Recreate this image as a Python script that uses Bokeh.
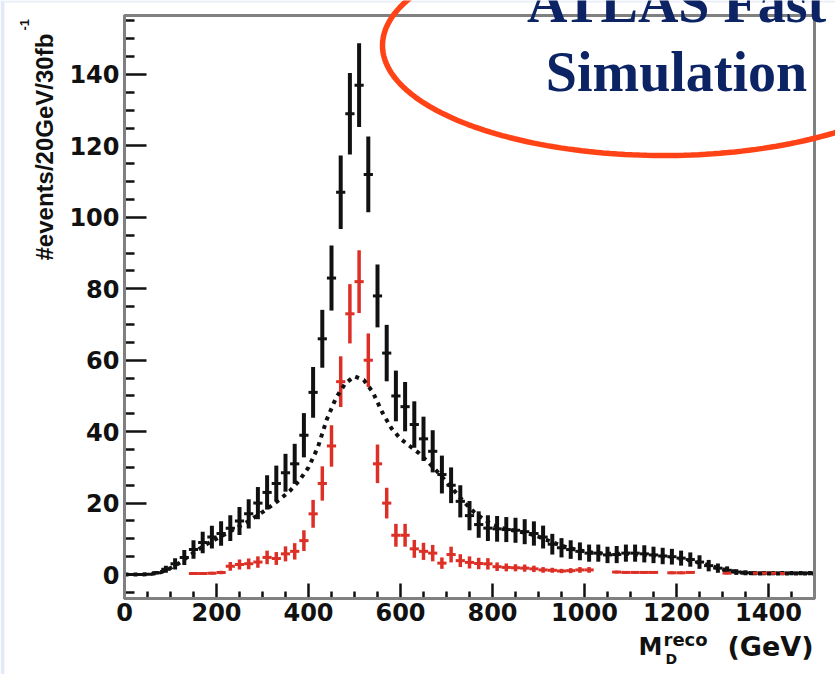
import numpy as np
from bokeh.plotting import figure
from bokeh.models import (BoxAnnotation, ColumnDataSource, FixedTicker, Label,
                          PolyAnnotation, Range1d)
from bokeh.embed import file_html
from bokeh.resources import INLINE

# ---------------- data ----------------
BIN_WIDTH = 20
bin_centers = list(range(10, 1500, BIN_WIDTH))

# total (signal + background), events per 20 GeV
total_events = [
    0.05, 0.05, 0.1, 0.5, 1.5, 3.0, 4.8, 7.0, 9.0, 10.5,
    11.5, 13.0, 15.0, 17.0, 20.0, 23.0, 25.5, 28.5, 31.0, 39.0,
    51.0, 66.0, 83.0, 107.0, 129.0, 137.0, 112.0, 78.0, 62.0, 50.0,
    47.0, 42.0, 38.0, 34.5, 28.0, 25.0, 20.5, 16.5, 14.0, 13.0,
    12.8, 12.6, 12.4, 12.0, 11.5, 10.5, 8.5, 7.5, 7.0, 6.5,
    6.0, 6.0, 5.5, 5.6, 6.0, 6.0, 5.8, 5.5, 5.2, 5.0,
    4.6, 4.2, 3.5, 2.5, 1.8, 1.2, 0.7, 0.5, 0.4, 0.4,
    0.4, 0.4, 0.4, 0.4, 0.4,
]
total_errors = [
    0.1, 0.1, 0.2, 0.5, 1.0, 1.6, 2.1, 2.6, 3.0, 3.2,
    3.4, 3.6, 3.9, 4.1, 4.5, 4.8, 5.0, 5.3, 5.6, 6.2,
    7.1, 8.1, 9.1, 10.3, 11.4, 11.7, 10.6, 8.8, 7.9, 7.1,
    6.9, 6.5, 6.2, 5.9, 5.3, 5.0, 4.5, 4.1, 3.7, 3.6,
    3.6, 3.5, 3.5, 3.5, 3.4, 3.2, 2.9, 2.7, 2.6, 2.5,
    2.4, 2.4, 2.3, 2.4, 2.4, 2.4, 2.4, 2.3, 2.3, 2.2,
    2.1, 2.0, 1.9, 1.6, 1.3, 1.1, 0.8, 0.7, 0.6, 0.6,
    0.6, 0.6, 0.6, 0.6, 0.6,
]

# signal only (None = empty bin)
signal_events = [
    None, None, None, None, None, None, None, 0.3, 0.3, 0.4,
    0.6, 2.3, 2.8, 3.0, 3.5, 4.8, 4.5, 5.8, 6.5, 9.5,
    17.0, 25.5, 36.0, 54.0, 73.0, 82.0, 60.0, 31.0, 20.0, 11.0,
    11.0, 7.2, 6.5, 6.0, 3.2, 5.6, 3.9, 3.4, 3.1, 3.0,
    2.2, 2.0, 1.9, 1.8, 1.6, 1.3, 1.2, 1.0, 1.1, 1.3,
    1.3, None, None, 0.7, 0.6, 0.6, 0.6, 0.6, None, 0.5,
    0.5, 0.6, None, None, None, 0.4, None, None, 0.4, 0.4,
    0.4, 0.3, None, None, None,
]
signal_errors = [
    None, None, None, None, None, None, None, 0.3, 0.3, 0.4,
    0.5, 1.2, 1.4, 1.5, 1.6, 1.9, 1.8, 2.1, 2.3, 2.9,
    3.9, 4.8, 5.8, 7.1, 8.3, 8.8, 7.5, 5.4, 4.3, 3.2,
    3.2, 2.5, 2.4, 2.3, 1.6, 2.2, 1.8, 1.7, 1.6, 1.6,
    1.2, 1.1, 1.0, 1.0, 0.9, 0.8, 0.7, 0.6, 0.7, 0.8,
    0.8, None, None, 0.4, 0.4, 0.4, 0.4, 0.4, None, 0.4,
    0.4, 0.4, None, None, None, 0.3, None, None, 0.3, 0.3,
    0.3, 0.3, None, None, None,
]

# fitted shape
fit_mass = list(range(0, 1501, 20))
fit_events = [
    0.0, 0.0, 0.05, 0.2, 0.7, 1.8, 3.3, 5.2, 7.0, 8.6,
    10.0, 11.4, 12.8, 14.2, 15.8, 17.5, 19.3, 21.3, 23.5, 26.3,
    30.0, 35.5, 43.5, 49.5, 53.5, 55.5, 54.5, 51.0, 45.5, 41.0,
    38.0, 36.0, 34.0, 31.5, 28.8, 26.0, 23.0, 20.0, 17.5, 15.5,
    14.0, 13.0, 12.5, 12.0, 11.4, 10.6, 9.6, 8.6, 7.7, 7.0,
    6.5, 6.1, 5.9, 5.8, 5.8, 5.8, 5.6, 5.4, 5.2, 5.0,
    4.6, 4.2, 3.6, 3.0, 2.2, 1.5, 1.0, 0.6, 0.4, 0.3,
    0.3, 0.3, 0.3, 0.3, 0.3, 0.3,
]

x_major = [0, 200, 400, 600, 800, 1000, 1200, 1400]
x_minor = [m for m in range(0, 1501, 50) if m % 200]
y_major = [0, 20, 40, 60, 80, 100, 120, 140]
y_minor = [m for m in range(-5, 156, 5) if m % 20]

# ---------------- geometry ----------------
W, H = 835, 674
# axes box on the page (pixels) and the values at its edges
BOX_L, BOX_T, BOX_R, BOX_B = 124, 15, 814, 598
X0, X1 = 0, 1500
Y0, Y1 = -6.7, 156.5
XS = (X1 - X0) / (BOX_R - BOX_L)
YS = (Y1 - Y0) / (BOX_B - BOX_T)
# Label boxes sit this fraction of the font size below the requested baseline
BASELINE_SHIFT = 0.35


def to_x(px):
    return X0 + (np.asarray(px, dtype=float) - BOX_L) * XS


def to_y(py):
    return Y0 + (BOX_B - np.asarray(py, dtype=float)) * YS


p = figure(width=W, height=H,
           x_range=Range1d(float(to_x(0)), float(to_x(W))),
           y_range=Range1d(float(to_y(H)), float(to_y(0))),
           output_backend="svg", toolbar_location=None, min_border=0)
p.background_fill_color = "white"
p.border_fill_color = "white"
p.grid.visible = False
p.outline_line_color = None

INK = "#111111"
xa, ya = p.xaxis[0], p.yaxis[0]
xa.fixed_location = Y0
ya.fixed_location = X0
xa.bounds = (X0, X1)
ya.bounds = (Y0, Y1)
for ax, major, minor, tin, tmin in ((xa, x_major, x_minor, 15, 7),
                                    (ya, y_major, y_minor, 22, 10)):
    ax.ticker = FixedTicker(ticks=major, minor_ticks=minor)
    ax.axis_line_color = INK
    ax.axis_line_width = 3
    ax.major_tick_line_color = INK
    ax.minor_tick_line_color = INK
    ax.major_tick_line_width = 2.5
    ax.minor_tick_line_width = 2.5
    ax.major_tick_in = tin
    ax.major_tick_out = 0
    ax.minor_tick_in = tmin
    ax.minor_tick_out = 0
    ax.major_label_text_font = "DejaVu Sans"
    ax.major_label_text_font_style = "bold"
    ax.major_label_text_font_size = "24px"
    ax.major_label_text_color = INK
xa.major_label_standoff = 4
ya.major_label_standoff = 5

# page edge tint
p.add_layout(PolyAnnotation(xs=list(to_x([0, 4, 4, 0])), ys=list(to_y([0, 0, H, H])),
                            fill_color="#e3e9f5", fill_alpha=1, line_alpha=0))
p.add_layout(PolyAnnotation(xs=list(to_x([0, W, W, 0])), ys=list(to_y([0, 0, 2, 2])),
                            fill_color="#e8edf7", fill_alpha=1, line_alpha=0))

# gray frame (top and right sides show; left/bottom sit under the axes)
p.add_layout(BoxAnnotation(left=X0, right=X1, bottom=Y0, top=Y1,
                           fill_alpha=0, line_color="#808080", line_alpha=1, line_width=3))

# ---------------- histograms ----------------
half = BIN_WIDTH / 2
tot = ColumnDataSource(dict(
    x=bin_centers, y=total_events,
    lo=[v - e for v, e in zip(total_events, total_errors)],
    hi=[v + e for v, e in zip(total_events, total_errors)],
    xl=[c - half for c in bin_centers], xr=[c + half for c in bin_centers]))
p.segment(x0="x", y0="lo", x1="x", y1="hi", source=tot, line_width=4, line_color=INK)
p.segment(x0="xl", y0="y", x1="xr", y1="y", source=tot, line_width=3, line_color=INK)

sig_rows = [(c, v, e) for c, v, e in zip(bin_centers, signal_events, signal_errors) if v is not None]
RED = "#dc3027"
sig = ColumnDataSource(dict(
    x=[c for c, _, _ in sig_rows], y=[v for _, v, _ in sig_rows],
    lo=[v - e for _, v, e in sig_rows], hi=[v + e for _, v, e in sig_rows],
    xl=[c - half for c, _, _ in sig_rows], xr=[c + half for c, _, _ in sig_rows]))
p.segment(x0="x", y0="lo", x1="x", y1="hi", source=sig, line_width=3.5, line_color=RED)
p.segment(x0="xl", y0="y", x1="xr", y1="y", source=sig, line_width=3, line_color=RED)

p.line(fit_mass, fit_events, line_color=INK, line_width=4, line_dash="4 5")


def page_label(text, px, py, size, font, align="left", color=INK, vertical=False):
    """Place text by its baseline point in page pixels."""
    shift = BASELINE_SHIFT * size
    if vertical:
        px, angle = px - shift, np.pi / 2
    else:
        py, angle = py - shift, 0.0
    p.add_layout(Label(x=float(to_x(px)), y=float(to_y(py)), text=text, angle=angle,
                       text_font=font, text_font_style="bold", text_font_size=f"{size}px",
                       text_color=color, text_align=align, text_baseline="alphabetic"))


# ---------------- axis titles ----------------
page_label("#events/20GeV/30fb", 52, 260, 24, "Liberation Sans", vertical=True)
page_label("-1", 29, 30, 13, "Liberation Sans", vertical=True)

page_label("M", 638, 655, 24, "DejaVu Sans")
page_label("D", 665, 663, 14, "DejaVu Sans")
page_label("reco", 663, 645, 18, "DejaVu Sans")
page_label("(GeV)", 813, 655, 27, "DejaVu Sans", align="right")

# ---------------- callout ----------------
t = np.linspace(0, 2 * np.pi, 240)
p.add_layout(PolyAnnotation(xs=list(to_x(663 + 281 * np.cos(t))), ys=list(to_y(45 + 110 * np.sin(t))),
                            fill_alpha=0, line_color="#ff4316", line_alpha=1, line_width=5.5))
NAVY = "#0c2464"
page_label("ATLAS Fast", 676, 22.5, 56, "Liberation Serif", align="center", color=NAVY)
page_label("Simulation", 676, 91.5, 56, "Liberation Serif", align="center", color=NAVY)

open("out.html", "w").write(file_html(p, INLINE))
